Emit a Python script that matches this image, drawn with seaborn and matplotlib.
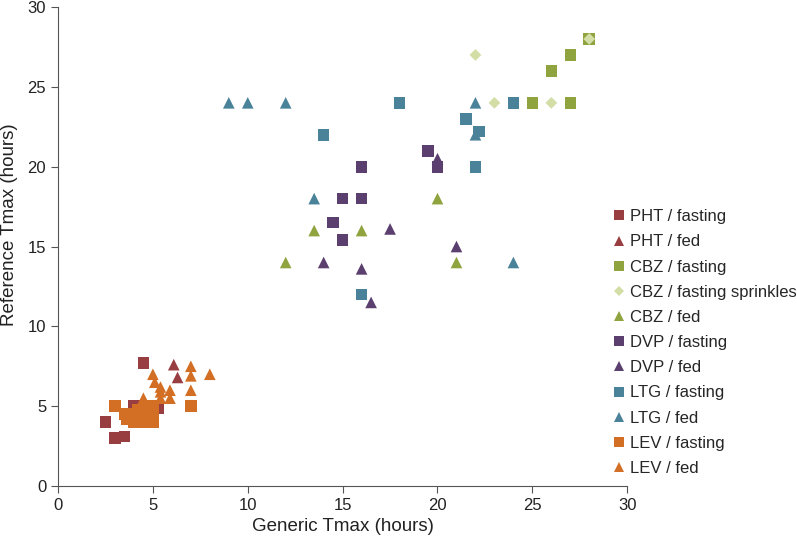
import pandas as pd
import matplotlib.pyplot as plt
import seaborn as sns

# Tmax values (generic x, reference y)
pht_fasting_x = [2.5, 3.0, 3.5, 4.0, 4.5, 5.3]
pht_fasting_y = [4.0, 3.0, 3.1, 5.0, 7.7, 4.9]
pht_fed_x = [6.1, 6.3]
pht_fed_y = [7.6, 6.8]
cbz_fasting_x = [28, 27, 26, 25, 27]
cbz_fasting_y = [28, 27, 26, 24, 24]
cbz_sprinkles_x = [22, 23, 26, 28]
cbz_sprinkles_y = [27, 24, 24, 28]
cbz_fed_x = [13.5, 16, 12, 20, 21]
cbz_fed_y = [16, 16, 14, 18, 14]
dvp_fasting_x = [16, 15, 16, 14.5, 15, 19.5, 20]
dvp_fasting_y = [20, 18, 18, 16.5, 15.4, 21, 20]
dvp_fed_x = [17.5, 14, 16, 16.5, 20, 21]
dvp_fed_y = [16.1, 14, 13.6, 11.5, 20.5, 15]
ltg_fasting_x = [18, 14, 16, 24, 21.5, 22.2, 22]
ltg_fasting_y = [24, 22, 12, 24, 23, 22.2, 20]
ltg_fed_x = [9, 10, 12, 13.5, 22, 22, 24]
ltg_fed_y = [24, 24, 24, 18, 24, 22, 14]
lev_fasting_x = [3.0, 3.5, 3.6, 4.0, 4.0, 4.0, 4.2, 4.5, 4.5, 4.7, 5.0, 5.0, 5.0, 4.8, 7.0]
lev_fasting_y = [5.0, 4.5, 4.2, 4.0, 4.5, 4.2, 4.8, 4.0, 4.3, 4.9, 4.0, 4.5, 5.0, 4.2, 5.0]
lev_fed_x = [5.0, 5.1, 5.4, 5.4, 5.9, 5.9, 5.4, 7.0, 7.0, 8.0, 7.0, 4.5]
lev_fed_y = [7.0, 6.5, 6.2, 5.9, 6.0, 5.5, 5.5, 7.5, 6.9, 7.0, 6.0, 5.5]

groups = [
    ('PHT / fasting', pht_fasting_x, pht_fasting_y),
    ('PHT / fed', pht_fed_x, pht_fed_y),
    ('CBZ / fasting', cbz_fasting_x, cbz_fasting_y),
    ('CBZ / fasting sprinkles', cbz_sprinkles_x, cbz_sprinkles_y),
    ('CBZ / fed', cbz_fed_x, cbz_fed_y),
    ('DVP / fasting', dvp_fasting_x, dvp_fasting_y),
    ('DVP / fed', dvp_fed_x, dvp_fed_y),
    ('LTG / fasting', ltg_fasting_x, ltg_fasting_y),
    ('LTG / fed', ltg_fed_x, ltg_fed_y),
    ('LEV / fasting', lev_fasting_x, lev_fasting_y),
    ('LEV / fed', lev_fed_x, lev_fed_y),
]

rows = []
for name, xs, ys in groups:
    for x, y in zip(xs, ys):
        rows.append({'group': name, 'generic': x, 'reference': y})
df = pd.DataFrame(rows)
order = [g[0] for g in groups]

palette = {
    'PHT / fasting': '#983D40', 'PHT / fed': '#983D40',
    'CBZ / fasting': '#8FA43E', 'CBZ / fasting sprinkles': '#D2DEA6',
    'CBZ / fed': '#8FA43E',
    'DVP / fasting': '#5B3F6F', 'DVP / fed': '#5B3F6F',
    'LTG / fasting': '#4A8399', 'LTG / fed': '#4A8399',
    'LEV / fasting': '#D36F24', 'LEV / fed': '#D36F24',
}
markers = {g: ('^' if g.endswith('fed') else 's') for g in order}
markers['CBZ / fasting sprinkles'] = 'D'
sizes = {g: 70 for g in order}
sizes['CBZ / fasting sprinkles'] = 36

sns.set_style('ticks')
plt.rcParams['font.family'] = ['Liberation Sans', 'DejaVu Sans']

fig = plt.figure(figsize=(7.97, 5.42), dpi=100)
ax = fig.add_axes([0.0728, 0.1033, 0.7142, 0.8837])

sns.scatterplot(data=df, x='generic', y='reference', hue='group', style='group', size='group',
                hue_order=order, style_order=order, size_order=order,
                palette=palette, markers=markers, sizes=sizes,
                linewidth=0, ax=ax)

ax.set_xlim(0, 30)
ax.set_ylim(0, 30)
ax.set_xticks(range(0, 31, 5))
ax.set_yticks(range(0, 31, 5))
ax.tick_params(labelsize=12, length=5, color='#555555', labelcolor='#222222')
for side in ['top', 'right']:
    ax.spines[side].set_visible(False)
for side in ['left', 'bottom']:
    ax.spines[side].set_color('#555555')
ax.set_xlabel('Generic Tmax (hours)', fontsize=13.5, color='#222222')
ax.set_ylabel('Reference Tmax (hours)', fontsize=13.5, color='#222222')
ax.yaxis.set_label_coords(-0.071, 0.545)

ax.legend(loc='upper left', bbox_to_anchor=(0.768, 0.614), bbox_transform=fig.transFigure,
          frameon=False, fontsize=12, markerscale=0.78, handlelength=0.8,
          handletextpad=0.3, labelspacing=0.61, borderaxespad=0, borderpad=0)

plt.savefig('out.png', dpi=100)
plt.close()
